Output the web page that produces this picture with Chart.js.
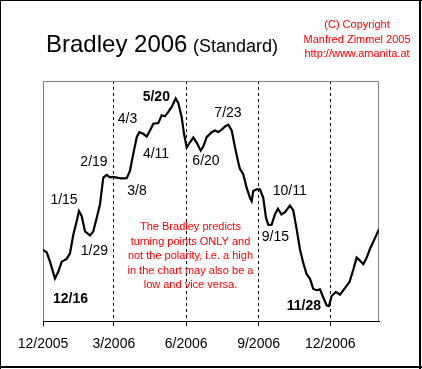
<!DOCTYPE html>
<html>
<head>
<meta charset="utf-8">
<script src="https://cdn.jsdelivr.net/npm/chart.js@4.4.1/dist/chart.umd.min.js"></script>
<style>
    html, body { margin: 0; padding: 0; background: #ffffff; }
    #wrap { width: 422px; height: 369px; }
</style>
</head>
<body>
<div id="wrap"><canvas id="chartBradley" width="422" height="369"></canvas></div>
<script>
// days counted from 1 Dec 2005
const dayOffsets = [
    0, 4.7, 8.9, 15.2, 19.4, 23.8, 30.1, 34.3, 38.5, 42.8,
    45.7, 49.2, 53.4, 59.7, 63.9, 68.2, 72.4, 76.6, 80.9, 85.1,
    89.3, 93.6, 99.1, 106.4, 110.5, 114.7, 119.1, 122.4, 127.4, 131.8,
    136, 140.2, 146.5, 150.8, 155, 159.2, 163.5, 168.6, 171.9, 176.2,
    179.2, 182.6, 186.8, 191, 195.3, 200.4, 203.7, 208, 214.4, 218.6,
    222.7, 227.1, 231.3, 235.5, 239.8, 244, 248.2, 250.3, 254.5, 258.8,
    263, 265.2, 267.2, 271.5, 275.7, 279.9, 283.4, 286.3, 290.6, 294.8,
    298.6, 303, 307.5, 313.8, 318, 322.4, 326.6, 330.8, 335.1, 339.3,
    343.5, 347.8, 352, 356.2, 360.5, 363.4, 366.8, 372.3, 377.4, 383.2,
    389.6, 394.3, 398.6, 402.8, 407.1, 411.4, 415.5, 421.9, 426.9
];
const bradleyValues = [
    70.7, 68.3, 59, 42.3, 49, 59, 61.7, 67.3, 85.7, 99,
    109, 104, 89, 85, 89, 102.3, 115.7, 142.3, 145, 142.5,
    143, 142.3, 141.5, 141.7, 149, 165.7, 182.3, 187.3, 185.7, 183,
    189, 195.7, 196.3, 204, 203, 207.3, 212.3, 220.7, 216.3, 202.3,
    185.7, 172, 177.3, 182, 177, 169, 173, 182.3, 187.3, 189,
    187.5, 189.7, 193, 194.7, 189, 172.3, 157.3, 150.7, 145.7, 132.3,
    122.3, 119, 129, 130.7, 130.7, 122.3, 102.3, 95.5, 95.7, 106,
    111.5, 105.7, 108, 114.5, 110, 91, 71, 57.5, 46.5, 42,
    32, 30.7, 31.5, 23.5, 15.7, 15, 25, 29, 26.3, 32.3,
    39, 51, 63, 60, 56.5, 63, 71.5, 82.3, 91
];
const tickDays = [0, 90, 182, 274, 365];
const tickLabels = ['12/2005', '3/2006', '6/2006', '9/2006', '12/2006'];

const turnText = ['12/16', '1/15', '1/29', '2/19', '3/8', '4/3', '4/11', '5/20', '6/20', '7/23', '9/15', '10/11', '11/28'];
const turnDay = [34.9, 26.7, 65.4, 64.8, 119.4, 107.4, 143.6, 144, 207.1, 235.1, 295.4, 313.5, 331.6];
const turnLevel = [22, 120, 69, 158, 129, 200, 166, 222.3, 159, 206, 83, 129, 15];
const turnBold = [true, false, false, false, false, false, false, true, false, false, false, false, true];

const noteLines = [
    'The Bradley predicts',
    'turning points ONLY and',
    'not the polarity, i.e. a high',
    'in the chart may also be a',
    'low and vice versa.'
];
const copyrightLines = ['(C) Copyright', 'Manfred Zimmel 2005', 'http://www.amanita.at'];

const FONT = '"Liberation Sans", Arial, sans-serif';

const decor = {
    id: 'decor',
    beforeDatasetsDraw(chart) {
        const ctx = chart.ctx;
        const a = chart.chartArea;
        ctx.save();
        ctx.strokeStyle = '#808080';
        ctx.lineWidth = 1;
        ctx.beginPath();
        ctx.moveTo(a.left + 0.5, a.bottom);
        ctx.lineTo(a.left + 0.5, a.top + 0.5);
        ctx.lineTo(a.right - 0.5, a.top + 0.5);
        ctx.lineTo(a.right - 0.5, a.bottom);
        ctx.stroke();
        ctx.restore();
    },
    afterDraw(chart) {
        const ctx = chart.ctx;
        const xs = chart.scales.x;
        const ys = chart.scales.y;
        ctx.save();

        // outer frame
        ctx.fillStyle = '#000';
        ctx.fillRect(0, 0, 422, 1);
        ctx.fillRect(0, 0, 1, 369);
        ctx.fillRect(419, 0, 2, 369);
        ctx.fillRect(0, 366, 422, 2);

        // title
        ctx.textBaseline = 'alphabetic';
        ctx.textAlign = 'left';
        ctx.fillStyle = '#000';
        ctx.font = '24px ' + FONT;
        ctx.fillText('Bradley 2006', 46, 52);
        ctx.font = '18px ' + FONT;
        ctx.fillText('(Standard)', 193, 52);

        // copyright
        ctx.fillStyle = '#ff0000';
        ctx.textAlign = 'center';
        ctx.textBaseline = 'middle';
        ctx.font = '11px ' + FONT;
        copyrightLines.forEach((t, i) => ctx.fillText(t, 357, 25 + i * 14.5));

        // turning point dates
        ctx.fillStyle = '#000';
        turnText.forEach((t, i) => {
            ctx.font = (turnBold[i] ? 'bold ' : '') + '14px ' + FONT;
            ctx.fillText(t, xs.getPixelForValue(turnDay[i]), ys.getPixelForValue(turnLevel[i]));
        });

        // note
        ctx.fillStyle = '#ff0000';
        ctx.font = '11px ' + FONT;
        const nx = xs.getPixelForValue(187.4);
        const ny = ys.getPixelForValue(93.3);
        noteLines.forEach((t, i) => ctx.fillText(t, nx, ny + i * 14.6));

        ctx.restore();
    }
};

const ctx = document.getElementById('chartBradley').getContext('2d');
const chart = new Chart(ctx, {
    type: 'line',
    data: {
        datasets: [{
            data: dayOffsets.map((d, i) => ({x: d, y: bradleyValues[i]})),
            borderColor: '#000000',
            borderWidth: 2.2,
            pointRadius: 0,
            fill: false,
            tension: 0
        }]
    },
    options: {
        responsive: false,
        animation: false,
        devicePixelRatio: 1,
        layout: { padding: { left: 43, right: 43, top: 81, bottom: 6 } },
        plugins: { legend: { display: false }, tooltip: { enabled: false } },
        scales: {
            x: {
                type: 'linear',
                min: 0,
                max: 427,
                afterBuildTicks: scale => { scale.ticks = tickDays.map(v => ({value: v})); },
                ticks: {
                    autoSkip: false,
                    maxRotation: 0,
                    padding: 10,
                    color: '#000',
                    font: { family: FONT, size: 14 },
                    callback: (v, i) => tickLabels[i]
                },
                grid: {
                    color: c => (c.tick && c.tick.value === 0) ? 'rgba(0,0,0,0)' : '#000',
                    lineWidth: 1,
                    tickLength: 5,
                    tickColor: '#000'
                },
                border: { color: '#000', width: 1, dash: [3, 3] }
            },
            y: {
                display: false,
                min: 0,
                max: 238
            }
        }
    },
    plugins: [decor]
});
</script>
</body>
</html>
